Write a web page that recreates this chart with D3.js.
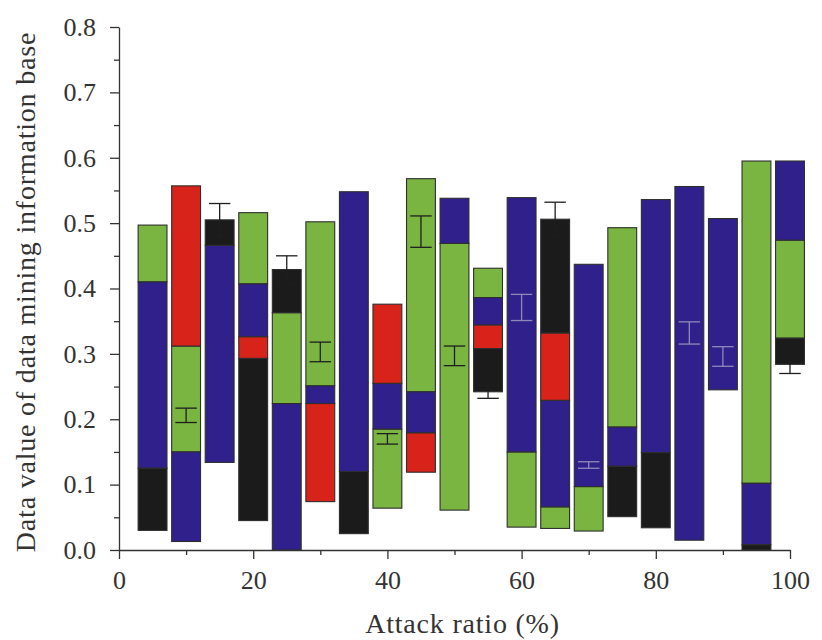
<!DOCTYPE html>
<html>
<head>
<meta charset="utf-8">
<script src="https://cdn.jsdelivr.net/npm/d3@7"></script>
<style>
  body { margin: 0; background: #fff; }
  svg { display: block; }
  text { font-family: "Liberation Serif", "DejaVu Serif", serif; fill: #333; }
</style>
</head>
<body>
<div id="chart"></div>
<script>
// Attack ratio (%) of each floating bar
const attackRatio = [5, 10, 15, 20, 25, 30, 35, 40, 45, 50, 55, 60, 65, 70, 75, 80, 85, 90, 95, 100];

// [low, high] range of each coloured segment, null when the bar has none
const greenRange = [
    [0.410, 0.497], [0.150, 0.312], null, [0.407, 0.516], [0.224, 0.363],
    [0.251, 0.502], null, [0.064, 0.185], [0.242, 0.568], [0.061, 0.469],
    [0.386, 0.431], [0.035, 0.150], [0.033, 0.066], [0.029, 0.097], [0.188, 0.493],
    null, null, null, [0.102, 0.595], [0.324, 0.474]
];
const blueRange = [
    [0.125, 0.410], [0.013, 0.150], [0.134, 0.466], [0.326, 0.407], [0.000, 0.224],
    [0.224, 0.251], [0.120, 0.548], [0.185, 0.255], [0.179, 0.242], [0.469, 0.538],
    [0.344, 0.386], [0.150, 0.539], [0.066, 0.229], [0.097, 0.437], [0.128, 0.188],
    [0.149, 0.536], [0.015, 0.556], [0.245, 0.507], [0.008, 0.102], [0.474, 0.595]
];
const redRange = [
    null, [0.312, 0.557], null, [0.293, 0.326], null,
    [0.074, 0.224], null, [0.255, 0.376], [0.119, 0.179], null,
    [0.308, 0.344], null, [0.229, 0.332], null, null,
    null, null, null, null, null
];
const blackRange = [
    [0.030, 0.125], null, [0.466, 0.505], [0.045, 0.293], [0.363, 0.429],
    null, [0.025, 0.120], null, null, null,
    [0.242, 0.308], null, [0.332, 0.506], null, [0.051, 0.128],
    [0.034, 0.149], null, null, [0.000, 0.008], [0.284, 0.324]
];

// error bars: centre value and half length
const errMean = [
    null, 0.206, 0.505, null, 0.429, 0.303, null, 0.170, 0.487, 0.297,
    0.242, 0.371, 0.506, 0.130, null, null, 0.332, 0.296, null, 0.284
];
const errHalf = [
    null, 0.011, 0.025, null, 0.021, 0.015, null, 0.008, 0.024, 0.015,
    0.010, 0.020, 0.026, 0.005, null, null, 0.017, 0.015, null, 0.014
];

const yTicks = [0, 0.1, 0.2, 0.3, 0.4, 0.5, 0.6, 0.7, 0.8];
const xTicks = [0, 20, 40, 60, 80, 100];

const series = [
    {name: "green", ranges: greenRange, color: "#7ab542"},
    {name: "blue",  ranges: blueRange,  color: "#30208b"},
    {name: "red",   ranges: redRange,   color: "#d8231b"},
    {name: "black", ranges: blackRange, color: "#1b1b1b"}
];

const W = 822, H = 640;
const margin = {top: 27, right: 32, bottom: 90, left: 119};
const width = W - margin.left - margin.right,
      height = H - margin.top - margin.bottom;

const svg = d3.select("#chart").append("svg")
    .attr("width", W)
    .attr("height", H)
    .append("g")
    .attr("transform", `translate(${margin.left},${margin.top})`);

const x = d3.scaleLinear().domain([0, 100]).range([0, width]);
const y = d3.scaleLinear().domain([0, 0.8]).range([height, 0]);

const barHalf = 2.15;   // in attack-ratio units
const capHalf = 1.6;

// bars
series.forEach(s => {
    const rows = attackRatio.map((a, i) => ({a: a, r: s.ranges[i]})).filter(d => d.r);
    svg.append("g").selectAll("rect")
       .data(rows)
       .enter().append("rect")
       .attr("x", d => x(d.a - barHalf))
       .attr("width", d => x(d.a + barHalf) - x(d.a - barHalf))
       .attr("y", d => y(d.r[1]))
       .attr("height", d => y(d.r[0]) - y(d.r[1]))
       .attr("fill", s.color)
       .attr("stroke", "#2e2e2e")
       .attr("stroke-width", 1.1);
});

// error bars (lighter when sitting on a blue segment)
const errs = attackRatio.map((a, i) => ({a: a, m: errMean[i], h: errHalf[i], blue: blueRange[i]}))
    .filter(d => d.m !== null);
const errColor = d => (d.blue && d.m > d.blue[0] + 0.005 && d.m < d.blue[1] - 0.005) ? "#8e8ab8" : "#1e1e1e";
const eg = svg.append("g").selectAll("g").data(errs).enter().append("g")
    .attr("stroke", errColor)
    .attr("stroke-width", 1.3);
eg.append("line")
  .attr("x1", d => x(d.a)).attr("x2", d => x(d.a))
  .attr("y1", d => y(d.m - d.h)).attr("y2", d => y(d.m + d.h));
eg.append("line")
  .attr("x1", d => x(d.a - capHalf)).attr("x2", d => x(d.a + capHalf))
  .attr("y1", d => y(d.m + d.h)).attr("y2", d => y(d.m + d.h));
eg.append("line")
  .attr("x1", d => x(d.a - capHalf)).attr("x2", d => x(d.a + capHalf))
  .attr("y1", d => y(d.m - d.h)).attr("y2", d => y(d.m - d.h));

// minor ticks
const axisColor = "#333";
svg.append("g")
   .attr("transform", `translate(0,${height})`)
   .call(d3.axisBottom(x).tickValues([10, 30, 50, 70, 90]).tickSize(5).tickFormat(""))
   .call(g => g.select(".domain").remove());
svg.append("g")
   .call(d3.axisLeft(y).tickValues(d3.range(0.05, 0.8, 0.1)).tickSize(5).tickFormat(""))
   .call(g => g.select(".domain").remove());

// major axes
const xAxis = svg.append("g")
   .attr("transform", `translate(0,${height})`)
   .call(d3.axisBottom(x).tickValues(xTicks).tickSize(9).tickSizeOuter(0).tickPadding(12));
const yAxis = svg.append("g")
   .call(d3.axisLeft(y).tickValues(yTicks).tickSize(9).tickSizeOuter(0).tickPadding(14)
         .tickFormat(d3.format(".1f")));

svg.selectAll(".tick line").attr("stroke", axisColor).attr("stroke-width", 1.3);
svg.selectAll(".domain").attr("stroke", axisColor).attr("stroke-width", 1.3);
xAxis.selectAll("text").style("font-size", "26px").attr("fill", "#333");
yAxis.selectAll("text").style("font-size", "26px").attr("fill", "#333");

// axis labels
svg.append("text")
   .attr("x", width / 2 + 8)
   .attr("y", height + 83)
   .style("text-anchor", "middle")
   .style("font-size", "28px")
   .style("letter-spacing", "0.8px")
   .text("Attack ratio (%)");

svg.append("text")
   .attr("transform", "rotate(-90)")
   .attr("x", -265)
   .attr("y", -margin.left + 35)
   .style("text-anchor", "middle")
   .style("font-size", "28px")
   .style("letter-spacing", "0.8px")
   .text("Data value of data mining information base");
</script>
</body>
</html>
